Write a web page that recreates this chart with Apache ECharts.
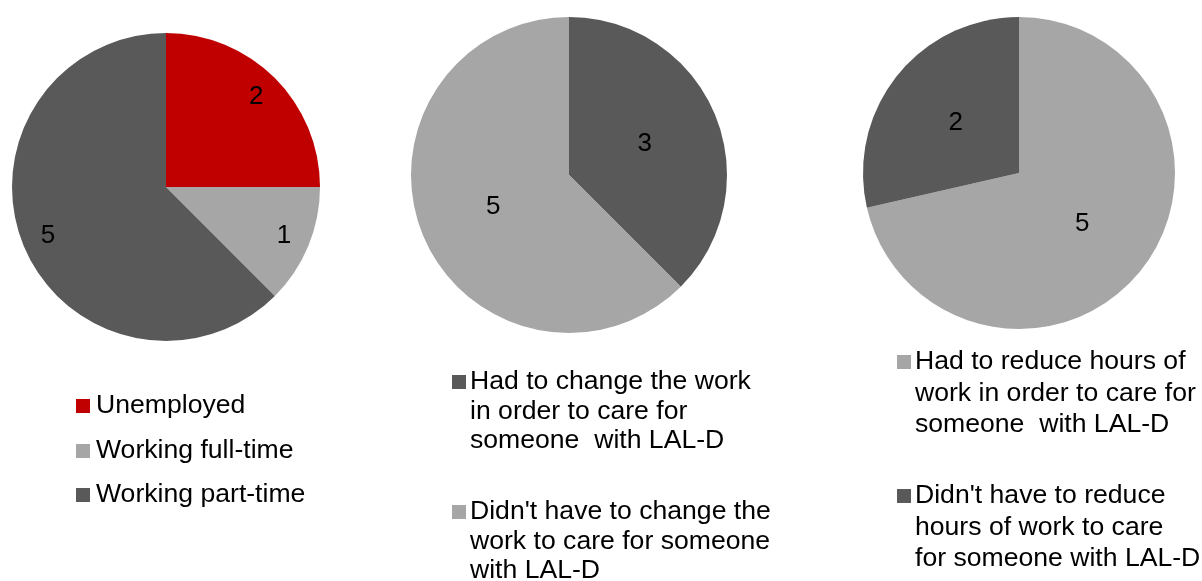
<!DOCTYPE html>
<html>
<head>
<meta charset="utf-8">
<script src="https://cdn.jsdelivr.net/npm/echarts@6/dist/echarts.min.js"></script>
<style>
html,body{margin:0;padding:0;background:#fff;}
#chart{width:1202px;height:581px;}
</style>
</head>
<body>
<div id="chart"></div>
<script>
// ---- Data ----
const pie1Categories = ['Unemployed', 'Working full-time', 'Working part-time'];
const pie1Values = [2, 1, 5];
const pie1Colors = ['#C00000', '#A6A6A6', '#595959'];

const pie2Categories = ['Had to change the work\nin order to care for\nsomeone  with LAL-D', "Didn't have to change the\nwork to care for someone\nwith LAL-D"];
const pie2Values = [3, 5];
const pie2Colors = ['#595959', '#A6A6A6'];

const pie3Categories = ['Had to reduce hours of\nwork in order to care for\nsomeone  with LAL-D', "Didn't have to reduce\nhours of work to care\nfor someone with LAL-D"];
const pie3Values = [5, 2];
const pie3Colors = ['#A6A6A6', '#595959'];

const FONT = '"Liberation Sans", Arial, sans-serif';

function toData(cats, vals, colors) {
  return cats.map((c, i) => ({ name: c, value: vals[i], itemStyle: { color: colors[i] } }));
}

function pieSeries(cats, vals, colors, center, r, showLabel) {
  return {
    type: 'pie',
    center: center,
    radius: [0, r],
    startAngle: 90,
    clockwise: true,
    silent: true,
    animation: false,
    itemStyle: { borderWidth: 0 },
    label: showLabel ? { show: true, position: 'inside', color: '#000', fontSize: 26, fontFamily: FONT, formatter: '{c}' } : { show: false },
    labelLine: { show: false },
    emphasis: { disabled: true },
    data: toData(cats, vals, colors)
  };
}

function labelRing(cats, vals, center, rin, rout) {
  return {
    type: 'pie',
    center: center,
    radius: [rin, rout],
    startAngle: 90,
    clockwise: true,
    silent: true,
    animation: false,
    itemStyle: { color: 'rgba(0,0,0,0)', borderWidth: 0 },
    label: { show: true, position: 'inside', color: '#000', fontSize: 26, fontFamily: FONT, formatter: '{c}' },
    labelLine: { show: false },
    emphasis: { disabled: true },
    data: cats.map((c, i) => ({ name: c, value: vals[i] }))
  };
}

function legendGraphics(cats, colors, iconX, textX, firstLineYs, lineHeight) {
  const els = [];
  cats.forEach((c, i) => {
    const y = firstLineYs[i];
    els.push({
      type: 'rect', silent: true,
      shape: { x: iconX, y: y - 7, width: 14, height: 14 },
      style: { fill: colors[i] }
    });
    els.push({
      type: 'text', silent: true,
      x: textX, y: y - lineHeight / 2,
      style: {
        text: c, fill: '#000', font: '26.6px ' + FONT,
        lineHeight: lineHeight, verticalAlign: 'top', align: 'left'
      }
    });
  });
  return els;
}

const chart = echarts.init(document.getElementById('chart'), null, { renderer: 'canvas' });

const R1 = 154, C1 = [166, 187];
const R2 = 158, C2 = [569, 175];
const R3 = 156, C3 = [1019, 173];

chart.setOption({
  backgroundColor: '#fff',
  animation: false,
  series: [
    pieSeries(pie1Categories, pie1Values, pie1Colors, C1, R1, false),
    labelRing(pie1Categories, pie1Values, C1, R1 * 0.62, R1),
    pieSeries(pie2Categories, pie2Values, pie2Colors, C2, R2, true),
    pieSeries(pie3Categories, pie3Values, pie3Colors, C3, R3, true)
  ],
  graphic: [].concat(
    legendGraphics(pie1Categories, pie1Colors, 76, 96, [406, 451, 495], 30),
    legendGraphics(pie2Categories, pie2Colors, 452, 470, [382, 512], 29.5),
    legendGraphics(pie3Categories, pie3Colors, 897, 915, [362, 496], 31.5)
  )
});
</script>
</body>
</html>
